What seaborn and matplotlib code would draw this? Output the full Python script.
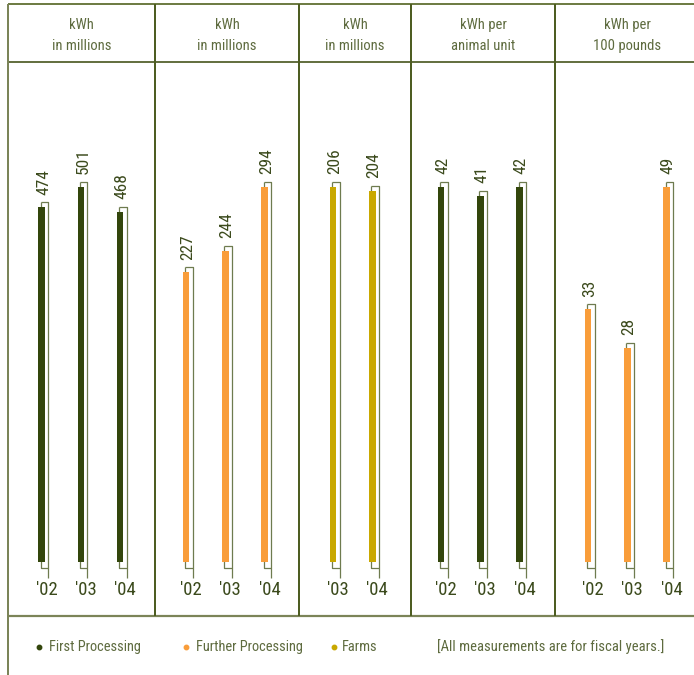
import numpy as np
import pandas as pd
import seaborn as sns
import matplotlib
matplotlib.use("Agg")
import matplotlib.pyplot as plt
from matplotlib.lines import Line2D
from matplotlib.transforms import IdentityTransform

sns.set_theme(style="white")
plt.rcParams["font.family"] = ["Roboto Condensed", "Liberation Sans Narrow", "DejaVu Sans"]
plt.rcParams["font.stretch"] = "condensed"

# ---------------- data ----------------
unit_line1 = ["kWh", "kWh", "kWh", "kWh per", "kWh per"]
unit_line2 = ["in millions", "in millions", "in millions", "animal unit", "100 pounds"]

p1_years = ["'02", "'03", "'04"]
p1_values = [474, 501, 468]          # First Processing, kWh in millions
p2_years = ["'02", "'03", "'04"]
p2_values = [227, 244, 294]          # Further Processing, kWh in millions
p3_years = ["'03", "'04"]
p3_values = [206, 204]               # Farms, kWh in millions
p4_years = ["'02", "'03", "'04"]
p4_values = [42, 41, 42]             # First Processing, kWh per animal unit
p5_years = ["'02", "'03", "'04"]
p5_values = [33, 28, 49]             # Further Processing, kWh per 100 pounds

segments = ["First Processing", "Further Processing", "Farms"]
panel_segment = ["First Processing", "Further Processing", "Farms",
                 "First Processing", "Further Processing"]
note_text = "[All measurements are for fiscal years.]"

seg_colors = {"First Processing": "#33460c",
              "Further Processing": "#f99d3a",
              "Farms": "#c9a800"}

panels = [(p1_years, p1_values), (p2_years, p2_values), (p3_years, p3_values),
          (p4_years, p4_values), (p5_years, p5_values)]

# ---------------- layout (pixels) ----------------
W, H = 694, 675
fig = plt.figure(figsize=(W / 100, H / 100), dpi=100)

def fx(px):
    return px / W

def fy(py):
    return 1 - py / H

def fig_line(xs, ys, color, lw_px):
    fig.add_artist(Line2D([fx(x) for x in xs], [fy(y) for y in ys],
                          transform=fig.transFigure, color=color,
                          linewidth=lw_px * 0.72, solid_capstyle="butt"))

base_px, top_px, max_px = 562, 62, 187
spacing = 39.2
bar_w_px = 6.6
bounds = [(8, 155), (155, 299), (299, 411), (411, 555), (555, 694)]
first_center = [41.6, 186, 333, 441, 588]

text_col = "#3b4a1c"
head_col = "#5e6b3f"
outline_col = "#6e7b4f"

# frame
fig_line([8, 694], [4, 4], "#6f7d45", 2)
fig_line([8, 694], [62, 62], "#3f4f14", 1.6)
fig_line([8, 694], [615.5, 615.5], "#7b8458", 2.2)
fig_line([8, 8], [4, 675], "#7b8458", 2)
for xd in [155, 299, 411, 555]:
    fig_line([xd, xd], [4, 615.5], "#4e5d22", 2)

for i, ((years, vals), (l, r)) in enumerate(zip(panels, bounds)):
    # header
    cx = (l + r) / 2 if i < 4 else 627
    fig.text(fx(cx), fy(29), unit_line1[i], ha="center", va="baseline",
             fontsize=10.5, color=head_col)
    fig.text(fx(cx), fy(50), unit_line2[i], ha="center", va="baseline",
             fontsize=10.5, color=head_col)

    ax = fig.add_axes([fx(l), fy(base_px), (r - l) / W, (base_px - top_px) / H])
    ax.patch.set_alpha(0)
    df = pd.DataFrame({"year": years, "kwh": vals})
    sns.barplot(data=df, x="year", y="kwh", order=years, ax=ax,
                color=seg_colors[panel_segment[i]], saturation=1,
                width=bar_w_px / spacing, errorbar=None, linewidth=0,
                zorder=3)
    c0 = first_center[i]
    ax.set_xlim((l - c0) / spacing, (r - c0) / spacing)
    ax.set_ylim(0, max(vals) * (base_px - top_px) / (base_px - max_px))
    for s in ax.spines.values():
        s.set_visible(False)
    ax.set_yticks([])
    ax.set_xlabel("")
    ax.set_ylabel("")
    ax.set_xticks(np.arange(len(years)) + 5 / spacing, labels=years)
    ax.tick_params(axis="x", length=0, pad=14, labelsize=13.5, labelcolor=text_col)

    # shadow outlines + value labels
    for p, v in zip(ax.patches, vals):
        x0 = p.get_x()
        x1 = x0 + p.get_width()
        (dx0, dyb), (dx1, dyt) = ax.transData.transform([(x0, 0), (x1, p.get_height())])
        lx, rx = dx0 + 2.5, dx1 + 3.3
        ty, by = dyt + 5, dyb - 5.5
        kw = dict(transform=IdentityTransform(), color=outline_col,
                  linewidth=0.9, solid_capstyle="butt", zorder=2, clip_on=False)
        ax.add_artist(Line2D([lx, rx, rx], [ty, ty, dyb - 15.5], **kw))
        ax.add_artist(Line2D([lx, lx, rx], [ty, by, by], **kw))
        ax.annotate(str(v), xy=((x0 + x1) / 2, p.get_height()),
                    xytext=(2, 12.5), textcoords="offset pixels",
                    rotation=90, ha="center", va="bottom",
                    fontsize=12.5, color=text_col)

# legend
for xd, xt, seg in [(39, 48.7, segments[0]), (186, 195.6, segments[1]), (334, 342, segments[2])]:
    fig.add_artist(Line2D([fx(xd)], [fy(647)], marker="o", markersize=3.2,
                          color=seg_colors[seg], linestyle="none",
                          transform=fig.transFigure))
    fig.text(fx(xt), fy(647), seg, ha="left", va="center", fontsize=10.4, color=head_col)
fig.text(fx(437), fy(647), note_text, ha="left", va="center", fontsize=10.5, color=head_col)

fig.savefig("out.png", dpi=100)
